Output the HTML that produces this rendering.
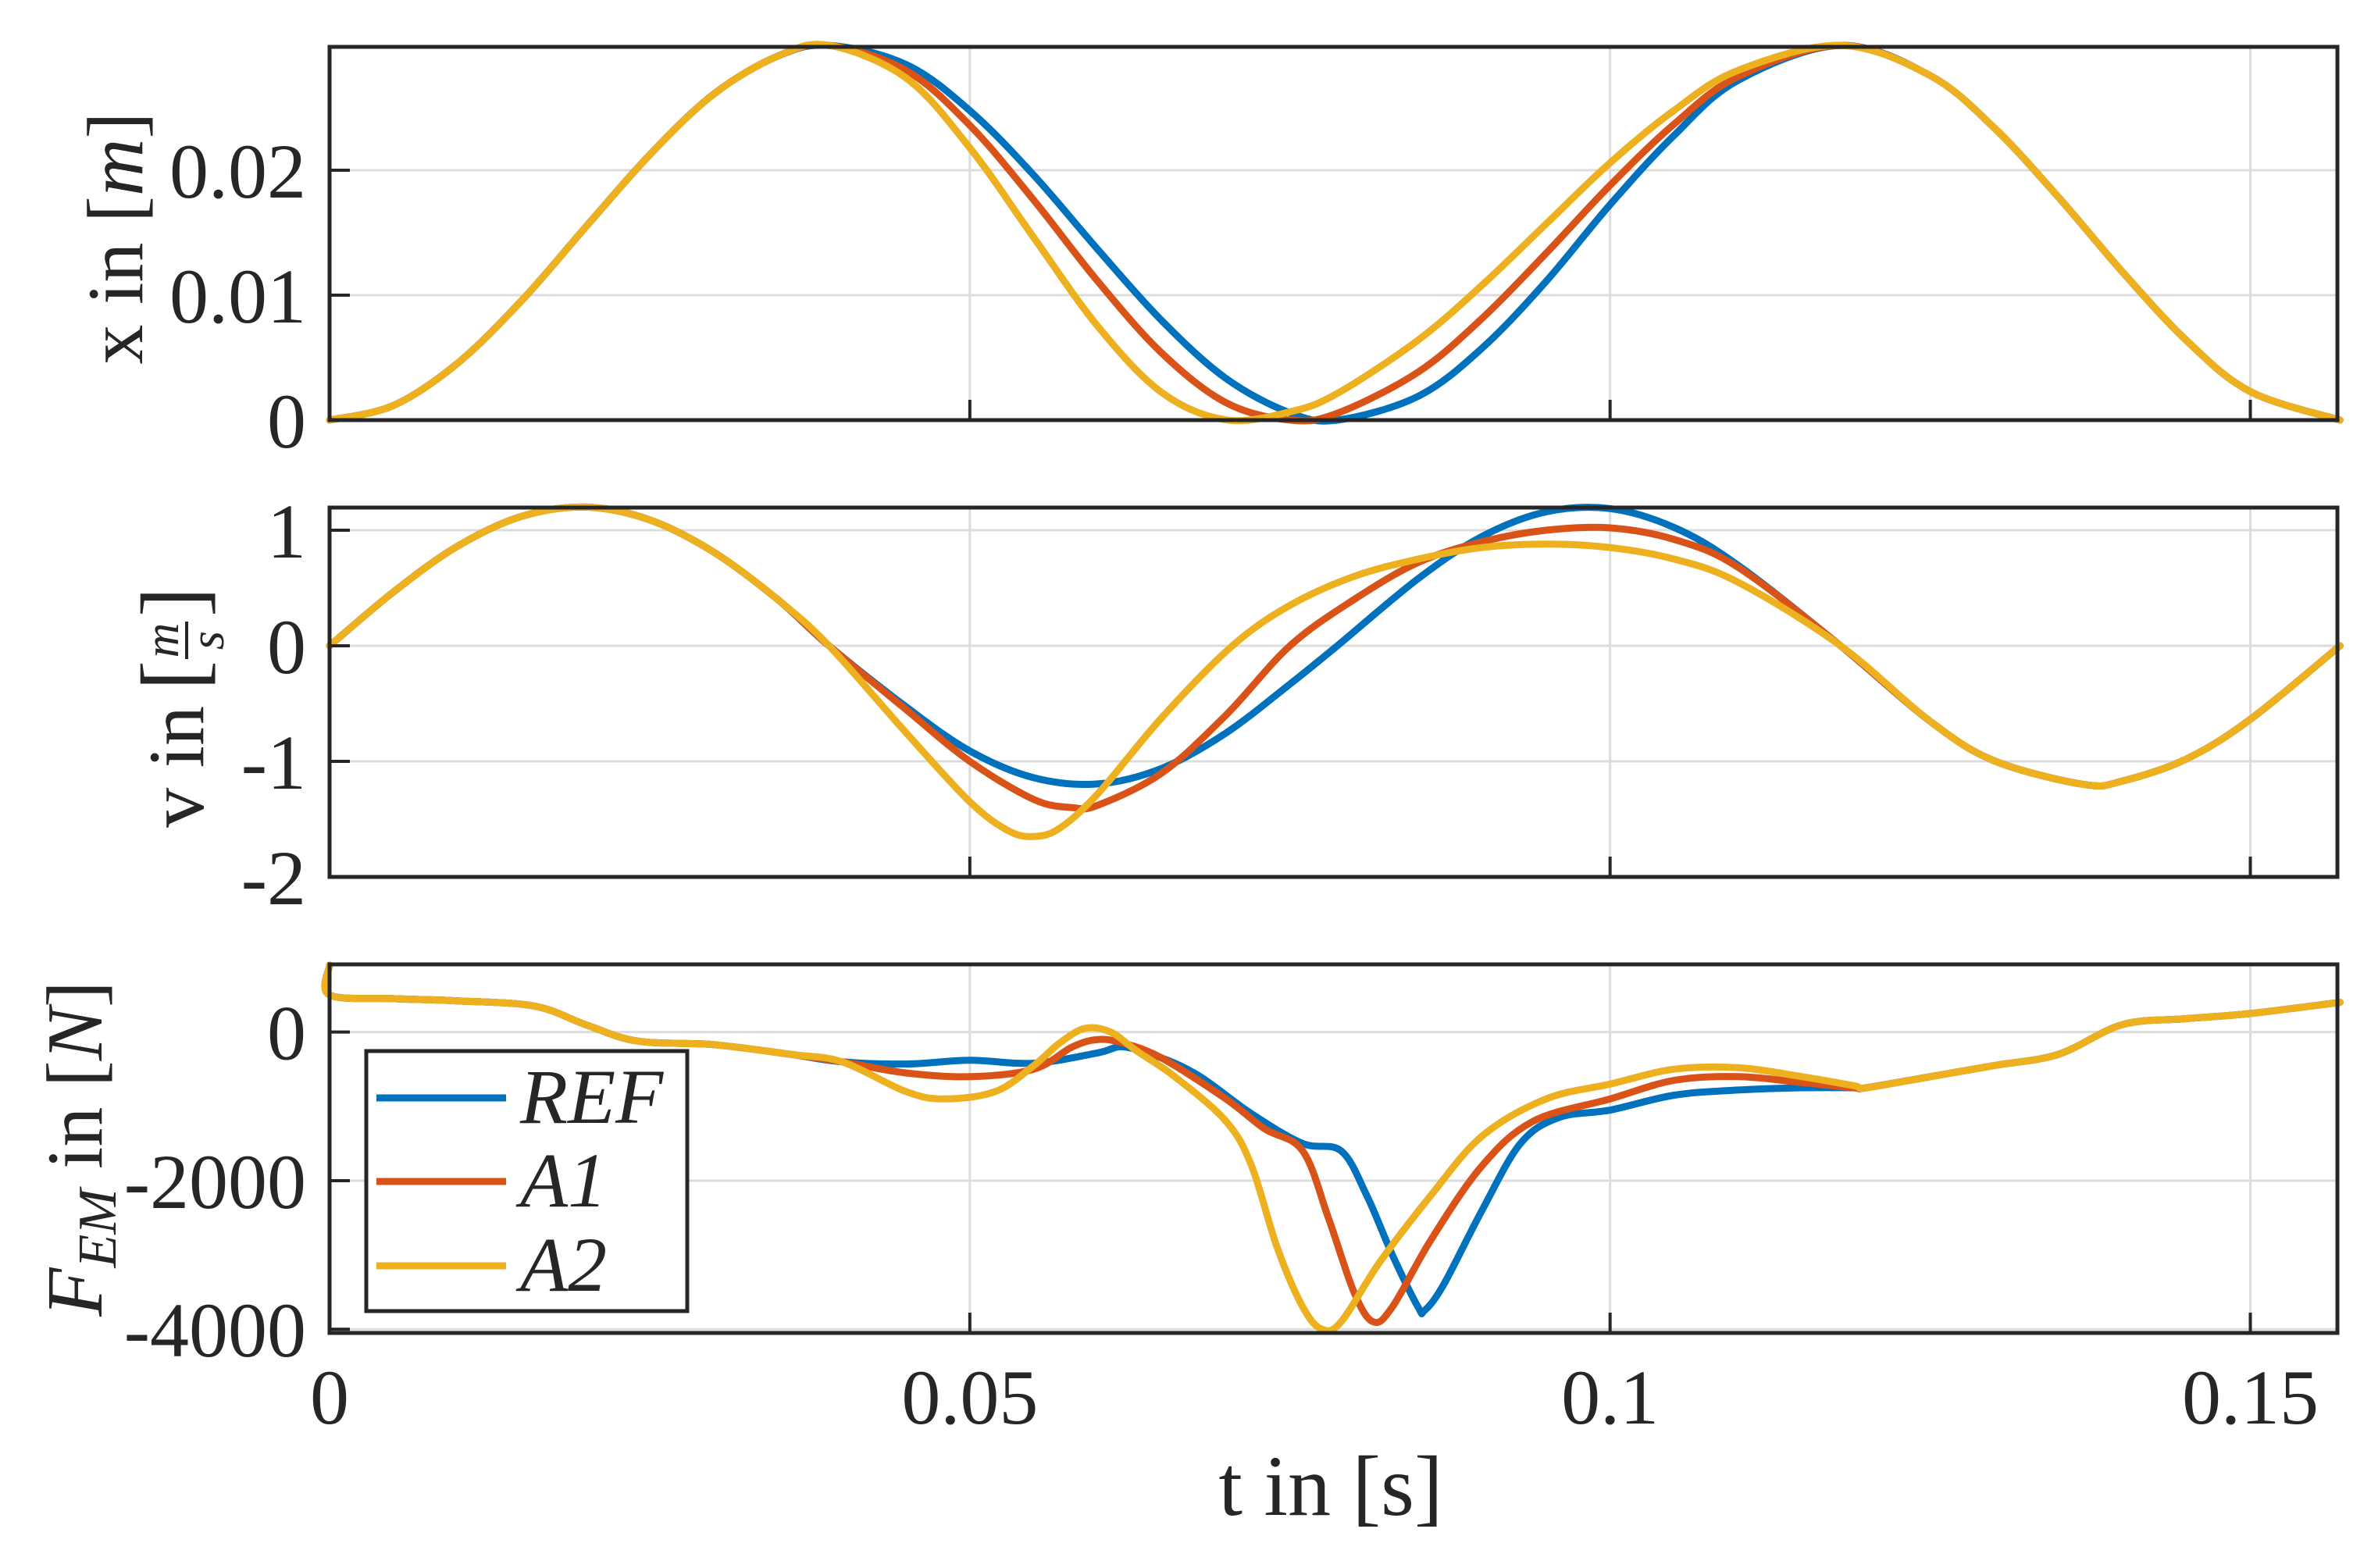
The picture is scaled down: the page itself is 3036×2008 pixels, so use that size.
<!DOCTYPE html>
<html><head><meta charset="utf-8"><title>Motion profiles</title>
<style>
html,body{margin:0;padding:0;background:#fff;}
svg{display:block;}
text{font-family:"Liberation Serif",serif;fill:#262626;}
</style></head>
<body>
<svg id="chart" width="3036" height="2008" viewBox="0 0 3036 2008" xmlns="http://www.w3.org/2000/svg">
<rect width="3036" height="2008" fill="#fff"/>
<g id="grid"></g>
<g id="series"></g>
<g id="frames"></g>
<g id="labels"></g>

<g transform="translate(182,305) rotate(-90)">
  <text x="0" y="0" font-size="102" text-anchor="middle">x in [<tspan font-style="italic">m</tspan>]</text>
</g>
<g transform="translate(260,884) rotate(-90)">
  <text x="-20" y="0" font-size="102" text-anchor="end">v in</text>
  <text x="0" y="0" font-size="115">[</text>
  <text x="64" y="-32" font-size="62" font-style="italic" text-anchor="middle">m</text>
  <line x1="40" y1="-21" x2="88" y2="-21" stroke="#262626" stroke-width="4"/>
  <text x="64" y="26" font-size="62" font-style="italic" text-anchor="middle">s</text>
  <text x="94" y="0" font-size="115">]</text>
</g>
<g transform="translate(130,1471) rotate(-90)">
  <text x="0" y="0" font-size="102" text-anchor="middle"><tspan font-style="italic">F</tspan><tspan font-style="italic" font-size="70" dy="18">EM</tspan><tspan dy="-18"> in [</tspan><tspan font-style="italic">N</tspan>]</text>
</g>
<text x="1704" y="1940" font-size="110" text-anchor="middle">t in [s]</text>

<g>
  <rect x="469" y="1346" width="411" height="333" fill="#fff" stroke="#262626" stroke-width="5"/>
  <g>
    <line x1="482" y1="1406" x2="648" y2="1406" stroke="#0072BD" stroke-width="9"/>
    <text x="666" y="1438" font-size="100" font-style="italic">REF</text>
  </g>
  <g>
    <line x1="482" y1="1513" x2="648" y2="1513" stroke="#D95319" stroke-width="9"/>
    <text x="666" y="1545" font-size="100" font-style="italic">A1</text>
  </g>
  <g>
    <line x1="482" y1="1621" x2="648" y2="1621" stroke="#EDB120" stroke-width="9"/>
    <text x="666" y="1653" font-size="100" font-style="italic">A2</text>
  </g>
</g>
</svg>
<script>
// ---- data ----
const xTicks = [0, 0.05, 0.1, 0.15];
const xTickLabels = ["0", "0.05", "0.1", "0.15"];
const posTicks = [0, 0.01, 0.02];
const posTickLabels = ["0", "0.01", "0.02"];
const velTicks = [-2, -1, 0, 1];
const velTickLabels = ["-2", "-1", "0", "1"];
const forceTicks = [-4000, -2000, 0];
const forceTickLabels = ["-4000", "-2000", "0"];
const seriesNames = ["REF", "A1", "A2"];

const tPos = [0,.005,.01,.015,.02,.025,.03,.035,.039,.045,.05,.055,.06,.065,.07,.075,.0787,.085,.09,.095,.1,.105,.11,.118,.125,.13,.135,.14,.145,.15,.157];
const posREF = [0,.00118,.00456,.00957,.01545,.02124,.0261,.02914,.03,.02848,.02478,.0196,.01365,.00795,.00334,.00058,0,.0019,.00576,.0111,.01725,.0228,.0272,.03,.02758,.02339,.01786,.01188,.00639,.00228,0];
const posA1 = [0,.00118,.00456,.00957,.01545,.02124,.0261,.02914,.03,.028,.0236,.0176,.0111,.00536,.0014,0,.00055,.00384,.00814,.01335,.0188,.0237,.0275,.03,.02758,.02339,.01786,.01188,.00639,.00228,0];
const posA2 = [0,.00118,.00456,.00957,.01545,.02124,.0261,.02914,.03,.0274,.0218,.0146,.0075,.0022,.00002,.00066,.00214,.0064,.0108,.0157,.0206,.0248,.028,.03,.02758,.02339,.01786,.01188,.00639,.00228,0];

const tVelREF = [0,.005,.01,.015,.02,.025,.03,.035,.039,.045,.05,.055,.06,.065,.07,.075,.0787,.085,.09,.095,.1,.105,.11,.118,.125,.13,.137,.14,.145,.15,.157];
const velREF = [0,.467,.862,1.12,1.2,1.09,.81,.4,0,-.526,-.91,-1.142,-1.195,-1.06,-.755,-.331,0,.58,.946,1.159,1.187,1.024,.697,0,-.654,-.995,-1.2,-1.17,-.98,-.636,0];
const tVelA1 = [0,.005,.01,.015,.02,.025,.03,.035,.039,.045,.05,.055,.058,.06,.065,.07,.075,.08,.085,.09,.095,.1,.105,.11,.118,.125,.13,.137,.14,.145,.15,.157];
const velA1 = [0,.467,.862,1.12,1.2,1.09,.81,.4,0,-.55,-1.0,-1.33,-1.4,-1.38,-1.1,-.6,0,.4,.72,.9,1.0,1.02,.92,.68,0,-.654,-.995,-1.2,-1.17,-.98,-.636,0];
const tVelA2 = [0,.005,.01,.015,.02,.025,.03,.035,.039,.045,.05,.053,.055,.057,.06,.065,.0705,.075,.08,.085,.09,.095,.1,.105,.11,.118,.125,.13,.137,.14,.145,.15,.157];
const velA2 = [0,.467,.862,1.12,1.2,1.09,.81,.4,0,-.75,-1.35,-1.6,-1.65,-1.58,-1.28,-.62,0,.35,.6,.75,.85,.88,.85,.75,.55,0,-.654,-.995,-1.2,-1.17,-.98,-.636,0];

const tForceREF = [0,0,.005,.01,.016,.02,.024,.03,.036,.04,.045,.05,.055,.06,.062,.065,.068,.072,.076,.079,.081,.083,.085,.0855,.087,.09,.093,.096,.1,.105,.11,.115,.119,.12,.125,.13,.135,.14,.145,.15,.157];
const forceREF = [900,500,450,420,350,100,-120,-170,-300,-400,-430,-380,-420,-280,-200,-350,-600,-1100,-1500,-1600,-2200,-3000,-3700,-3750,-3400,-2400,-1500,-1150,-1050,-850,-780,-750,-750,-750,-600,-450,-300,100,180,250,400];
const tForceA1 = [0,0,.005,.01,.016,.02,.024,.03,.036,.04,.045,.05,.055,.058,.06,.062,.065,.07,.073,.076,.078,.08,.0815,.083,.086,.09,.094,.1,.105,.11,.115,.119,.12,.125,.13,.135,.14,.145,.15,.157];
const forceA1 = [900,500,450,420,350,100,-120,-170,-300,-400,-550,-600,-500,-200,-100,-150,-350,-900,-1300,-1600,-2500,-3500,-3900,-3700,-2800,-1800,-1200,-900,-650,-600,-680,-750,-750,-600,-450,-300,100,180,250,400];
const tForceA2 = [0,0,.005,.01,.016,.02,.024,.03,.036,.04,.045,.048,.052,.055,.057,.059,.061,.063,.066,.07,.072,.074,.076,.0775,.079,.082,.086,.09,.095,.1,.105,.11,.115,.119,.12,.125,.13,.135,.14,.145,.15,.157];
const forceA2 = [900,500,450,420,350,100,-120,-170,-300,-400,-800,-900,-800,-450,-150,50,0,-250,-600,-1200,-1800,-2900,-3700,-4000,-3900,-3100,-2200,-1400,-900,-700,-500,-480,-600,-720,-750,-600,-450,-300,100,180,250,400];

// ---- layout ----
const X0 = 422, X1 = 2993, TMAX = 0.1568;
const sx = t => X0 + (t / TMAX) * (X1 - X0);
const panels = [
  {name:"position", top:60, bottom:538, ymin:0, ymax:0.02988, ticks:posTicks, labels:posTickLabels},
  {name:"velocity", top:650, bottom:1123, ymin:-2, ymax:1.196, ticks:velTicks, labels:velTickLabels},
  {name:"force", top:1235, bottom:1707, ymin:-4050, ymax:911, ticks:forceTicks, labels:forceTickLabels}
];
panels.forEach(p => { p.sy = v => p.bottom - (v - p.ymin) / (p.ymax - p.ymin) * (p.bottom - p.top); });

const NS = "http://www.w3.org/2000/svg";
const mk = (tag, attrs, parent) => { const e = document.createElementNS(NS, tag); for (const k in attrs) e.setAttribute(k, attrs[k]); parent.appendChild(e); return e; };
const gGrid = document.getElementById("grid"), gSer = document.getElementById("series"),
      gFr = document.getElementById("frames"), gLab = document.getElementById("labels");

panels.forEach(p => {
  xTicks.forEach(t => {
    const l = mk("line", {x1:sx(t), x2:sx(t), y1:p.top, y2:p.bottom, stroke:"#dcdcdc", "stroke-width":3}, gGrid);
    
    
    const tk = mk("line", {x1:sx(t), x2:sx(t), y1:p.bottom, y2:p.bottom - 26, stroke:"#262626", "stroke-width":4}, gFr);
    
    
  });
  p.ticks.forEach((v, i) => {
    const y = p.sy(v);
    const l = mk("line", {x1:X0, x2:X1, y1:y, y2:y, stroke:"#dcdcdc", "stroke-width":3}, gGrid);
    
    
    const tk = mk("line", {x1:X0, x2:X0 + 26, y1:y, y2:y, stroke:"#262626", "stroke-width":4}, gFr);
    
    
    const tx = mk("text", {x:X0 - 30, y:y + 35, "font-size":100, "text-anchor":"end"}, gLab);
    tx.textContent = p.labels[i];
    
    
  });
  const fr = mk("rect", {x:X0, y:p.top, width:X1 - X0, height:p.bottom - p.top, fill:"none", stroke:"#262626", "stroke-width":5}, gFr);
  
  
});
xTicks.forEach((t, i) => {
  const tx = mk("text", {x:sx(t), y:1823, "font-size":100, "text-anchor":"middle"}, gLab);
  tx.textContent = xTickLabels[i];
  
  
});

function smoothPath(pts) {
  let d = "M" + pts[0][0].toFixed(1) + "," + pts[0][1].toFixed(1);
  for (let i = 0; i < pts.length - 1; i++) {
    const p0 = pts[Math.max(0, i - 1)], p1 = pts[i], p2 = pts[i + 1], p3 = pts[Math.min(pts.length - 1, i + 2)];
    const c1 = [p1[0] + (p2[0] - p0[0]) / 6, p1[1] + (p2[1] - p0[1]) / 6];
    const c2 = [p2[0] - (p3[0] - p1[0]) / 6, p2[1] - (p3[1] - p1[1]) / 6];
    d += " C" + c1[0].toFixed(1) + "," + c1[1].toFixed(1) + " " + c2[0].toFixed(1) + "," + c2[1].toFixed(1) + " " + p2[0].toFixed(1) + "," + p2[1].toFixed(1);
  }
  return d;
}

const colors = ["#0072BD", "#D95319", "#EDB120"];
const posSeries = [[tPos, posREF], [tPos, posA1], [tPos, posA2]];
const velSeries = [[tVelREF, velREF], [tVelA1, velA1], [tVelA2, velA2]];
const forceSeries = [[tForceREF, forceREF], [tForceA1, forceA1], [tForceA2, forceA2]];

[[posSeries, panels[0]], [velSeries, panels[1]], [forceSeries, panels[2]]].forEach(([ser, p]) => {
  ser.forEach((s, i) => {
    const pts = s[0].map((t, k) => [sx(t), p.sy(s[1][k])]);
    const path = mk("path", {d: smoothPath(pts), fill:"none", stroke:colors[i], "stroke-width":9, "stroke-linejoin":"round", "stroke-linecap":"round"}, gSer);
    
    
  });
});
</script>
</body></html>
